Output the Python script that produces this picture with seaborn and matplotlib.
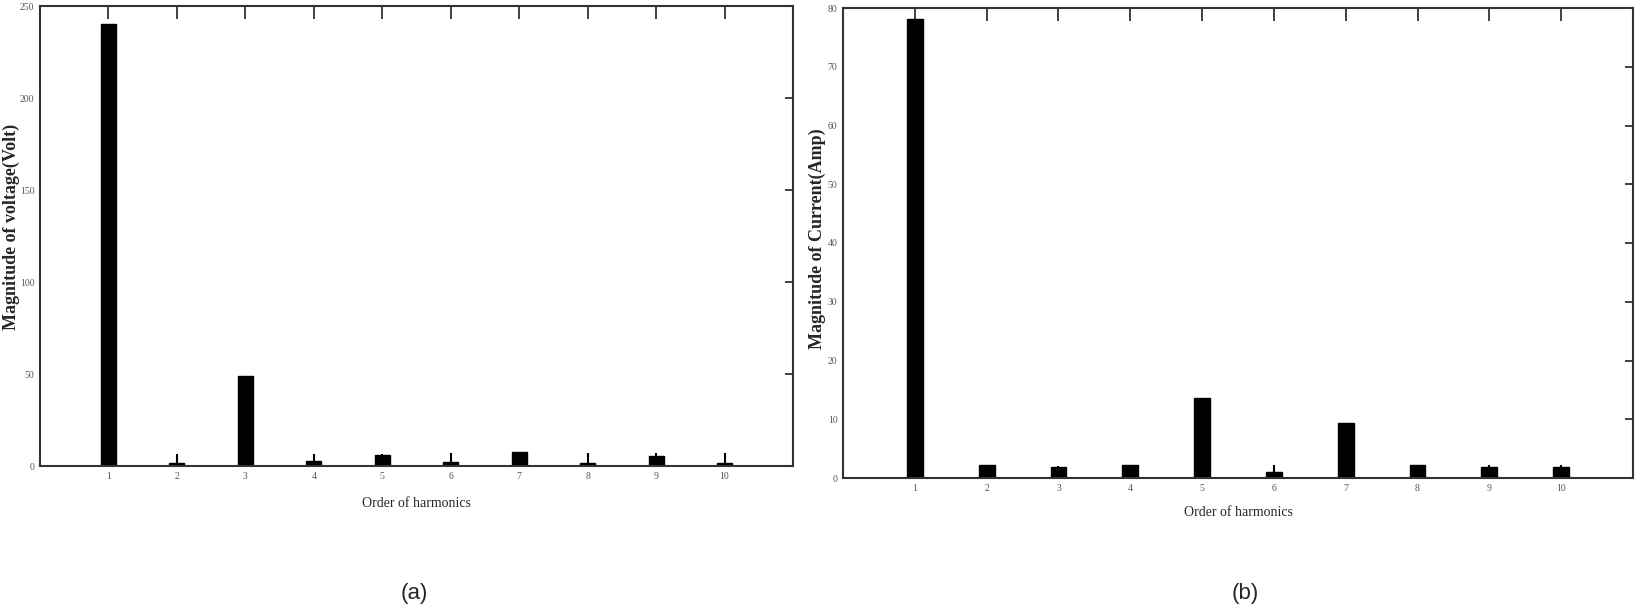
import numpy as np
import pandas as pd
import seaborn as sns
import matplotlib.pyplot as plt

orders = [1, 2, 3, 4, 5, 6, 7, 8, 9, 10]
voltage = [240, 1.8, 49, 2.9, 5.8, 2.3, 7.4, 1.4, 5.6, 1.8]
voltage_err = [0, 4.7, 0, 3.6, 0.7, 4.6, 0, 5.5, 1.3, 5.1]
current = [78.1, 2.2, 1.9, 2.2, 13.7, 1.0, 9.3, 2.2, 1.9, 1.9]
current_err = [0, 0, 0.2, 0, 0, 1.2, 0, 0, 0.3, 0.3]

sns.set_style("white")
plt.rcParams['font.family'] = ['Liberation Serif', 'DejaVu Serif']

fig = plt.figure(figsize=(16.36, 6.1), dpi=100)
ax1 = fig.add_axes([40 / 1636, 144 / 610, 753 / 1636, 460 / 610])
ax2 = fig.add_axes([843 / 1636, 132 / 610, 790 / 1636, 470 / 610])


def draw(ax, vals, errs, ylabel, ymax, ystep, xlab_pad, ylab_xy):
    df = pd.DataFrame({'Order': orders, 'Mag': vals})
    sns.barplot(data=df, x='Order', y='Mag', native_scale=True, width=0.22,
                color='black', edgecolor='black', errorbar=None, ax=ax)
    ax.errorbar(orders, vals, yerr=[np.zeros(len(errs)), errs], fmt='none',
                ecolor='black', elinewidth=1.5, capsize=0)
    ax.set_xlim(0, 11)
    ax.set_ylim(0, ymax)
    ax.set_xticks(orders)
    ax.set_yticks(np.arange(0, ymax + 1, ystep))
    ax.tick_params(direction='in', top=True, right=True, length=6, width=1.3,
                   color='#333333', labelsize=7, labelcolor='#555555', pad=4)
    ax.tick_params(axis='x', length=9)
    for s in ax.spines.values():
        s.set_color('#333333')
        s.set_linewidth(1.5)
    ax.set_xlabel('Order of harmonics', fontsize=10, labelpad=xlab_pad)
    ax.set_ylabel(ylabel, fontsize=13, fontweight='bold')
    ax.yaxis.set_label_coords(*ylab_xy)


draw(ax1, voltage, voltage_err, 'Magnitude of voltage(Volt)', 250, 50, 12,
     (-0.027, 0.52))
draw(ax2, current, current_err, 'Magnitude of Current(Amp)', 80, 10, 10,
     (-0.022, 0.51))

fig.text(414 / 1636, 1 - 594 / 610, '(a)', family='Liberation Sans', fontsize=16,
         ha='center', va='center')
fig.text(1245 / 1636, 1 - 594 / 610, '(b)', family='Liberation Sans', fontsize=16,
         ha='center', va='center')

fig.savefig('out.png', dpi=100)
